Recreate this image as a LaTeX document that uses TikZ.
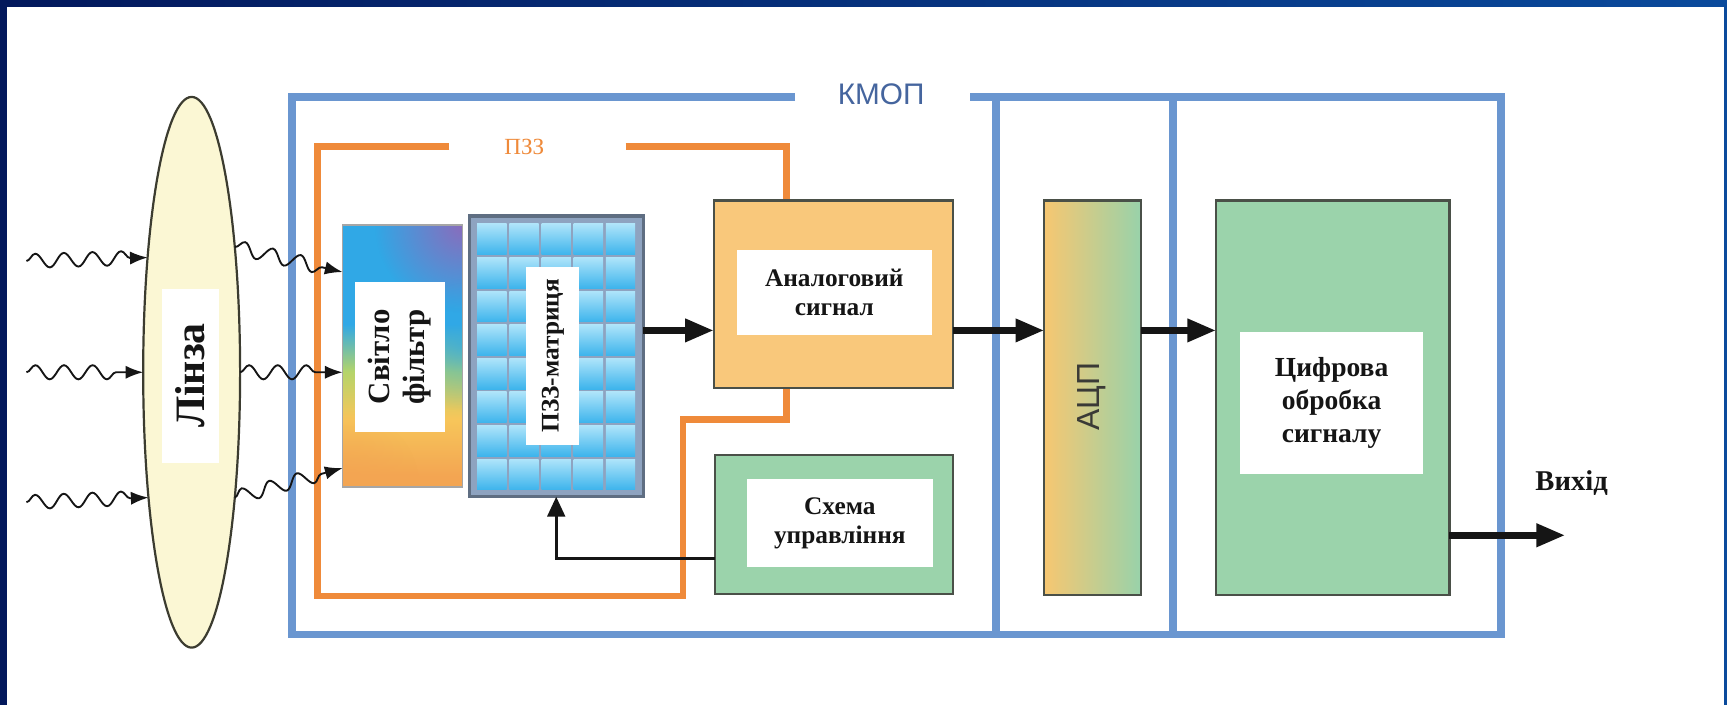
\documentclass[tikz,border=0pt]{standalone}
\usepackage{fontspec}
\setmainfont{Liberation Serif}
\newfontfamily\sansf{Liberation Sans}
\usetikzlibrary{arrows.meta,decorations.pathmorphing,shapes.geometric,fadings,calc}
\definecolor{navyA}{HTML}{03185C}
\definecolor{navyB}{HTML}{0A4A9C}
\definecolor{kblue}{HTML}{6A96D0}
\definecolor{kbluetext}{HTML}{45659E}
\definecolor{orng}{HTML}{EF8A3A}
\definecolor{lensfill}{HTML}{FBF7D4}
\definecolor{lensline}{HTML}{3C3C30}
\definecolor{anafill}{HTML}{F9C87B}
\definecolor{grn}{HTML}{9BD3AB}
\definecolor{boxline}{HTML}{4A5048}
\definecolor{ccdback}{HTML}{8EA3C0}
\definecolor{ccdline}{HTML}{5F6E82}
\definecolor{cellA}{HTML}{AEE4FA}
\definecolor{cellB}{HTML}{3DB4EC}
\definecolor{fBlue}{HTML}{30A8E6}
\definecolor{fPurple}{HTML}{8A6CBC}
\definecolor{fGreen}{HTML}{B4D46A}
\definecolor{fYellow}{HTML}{F7C65A}
\definecolor{fOrange}{HTML}{F3A552}
\definecolor{adcL}{HTML}{F7C771}
\definecolor{adcR}{HTML}{98D2AA}
\definecolor{adctext}{HTML}{3A3A36}
\definecolor{ink}{HTML}{151515}
\pgfdeclareverticalshading{filtershade}{100bp}{color(0bp)=(fOrange); color(27bp)=(fOrange); color(38bp)=(fYellow); color(47bp)=(fGreen); color(56bp)=(fBlue); color(100bp)=(fBlue)}
\tikzfading[name=glowfade, inner color=transparent!0, outer color=transparent!100]
\tikzset{
  box/.style={draw=boxline, line width=1pt, inner sep=0pt, outer sep=0pt},
  lbl/.style={fill=white, inner sep=0pt, outer sep=0pt, align=center, text=ink},
  wave/.style={draw=ink, line width=0.85pt, decorate,
    decoration={snake, amplitude=3.2pt, segment length=13pt, post length=7pt},
    -{Latex[length=8pt,width=6pt]}},
  bigarrow/.style={draw=ink, line width=3pt, -{Triangle[length=13pt,width=10pt]}},
  ctlarrow/.style={draw=ink, line width=1.3pt, -{Triangle[length=9pt,width=8pt]}},
  kframe/.style={draw=kblue, line width=3.5pt},
  oframe/.style={draw=orng, line width=3pt}
}
\begin{document}
\begin{tikzpicture}[x=0.5pt,y=-0.5pt]
\useasboundingbox (0,0) rectangle (1568,640);
% background
\shade[left color=navyA, right color=navyB] (0,0) rectangle (1568,640);
\fill[white] (6,6) rectangle (1565,640);
% KMOP frame
\node[font=\sansf\fontsize{13.5}{15}\selectfont, text=kbluetext] (kmop) at (800,86) {КМОП};
\draw[kframe, line join=miter] (722,88) -- (265,88) -- (265,576) -- (1363,576) -- (1363,88) -- (881,88);
\draw[kframe] (904,88) -- (904,576);
\draw[kframe] (1065,88) -- (1065,576);
% PZZ frame
\node[font=\fontsize{10.5}{12}\selectfont, text=orng] (pzz) at (476,133) {ПЗЗ};
\draw[oframe, line join=miter] (408,133) -- (288,133) -- (288,541) -- (620,541) -- (620,381) -- (714,381) -- (714,352);
\draw[oframe, line join=miter] (568,133) -- (714,133) -- (714,182);
% lens
\node[ellipse, draw=lensline, fill=lensfill, line width=1pt, minimum width=44pt, minimum height=250pt, inner sep=0pt, outer sep=0pt] (lens) at (174,338) {};
\node[lbl, rotate=90, minimum width=79pt, minimum height=26pt, font=\fontsize{19}{20}\selectfont\bfseries] (lenslbl) at (173,341) {Лінза};
% filter
\node[box, draw=gray!70, line width=0.8pt, shade, shading=filtershade, minimum width=54.5pt, minimum height=119pt] (filter) at (365.5,323) {};
\begin{scope}
  \clip (filter.south west) rectangle (filter.north east);
  \fill[fPurple, path fading=glowfade] (filter.north east) circle [radius=80];
  \fill[fBlue, path fading=glowfade, opacity=0.6] ($(filter.east)+(0,-10)$) circle [radius=60];
  \fill[fOrange, path fading=glowfade, opacity=0.7] (filter.south west) circle [radius=70];
\end{scope}
\draw[gray!70, line width=0.8pt] (filter.south west) rectangle (filter.north east);
\node[lbl, rotate=90, minimum width=68pt, minimum height=41pt, font=\fontsize{14}{16}\selectfont\bfseries] (filterlbl) at (363,324) {Світло\\фільтр};
% CCD matrix
\node[draw=ccdline, line width=1.5pt, fill=ccdback, minimum width=79pt, minimum height=127.5pt, inner sep=0pt, outer sep=0pt] (ccd) at (505,323.5) {};
\foreach \i in {0,...,4} {
  \foreach \j in {0,...,7} {
    \shade[top color=cellA, bottom color=cellB] ({432+\i*29.2+1.3},{202+\j*30.5+1.3}) rectangle ({432+(\i+1)*29.2-1.3},{202+(\j+1)*30.5-1.3});
  }
}
\node[lbl, rotate=90, minimum width=81pt, minimum height=24pt, font=\fontsize{11.5}{13}\selectfont\bfseries] (ccdlbl) at (502,323) {ПЗЗ-матриця};
% analog
\node[box, fill=anafill, minimum width=108.5pt, minimum height=85pt] (analog) at (756.5,267) {};
\node[lbl, minimum width=88.5pt, minimum height=38.5pt, font=\fontsize{11.5}{13.5}\selectfont\bfseries] (analoglbl) at (757.5,265.5) {Аналоговий\\сигнал};
% control
\node[box, fill=grn, minimum width=108pt, minimum height=63pt] (control) at (757,476) {};
\node[lbl, minimum width=84.5pt, minimum height=40pt, font=\fontsize{11.5}{13}\selectfont\bfseries] (controllbl) at (762.5,475) {Схема\\управління};
% ADC
\node[box, left color=adcL, right color=adcR, minimum width=44pt, minimum height=179pt] (adc) at (992,361) {};
\node[rotate=90, font=\sansf\fontsize{14.5}{16}\selectfont, text=adctext] (adclbl) at (991,360) {АЦП};
% DSP
\node[box, fill=grn, minimum width=106pt, minimum height=179pt] (dsp) at (1210,361) {};
\node[lbl, minimum width=83pt, minimum height=64.5pt, font=\fontsize{12.5}{15}\selectfont\bfseries] (dsplbl) at (1209,365.5) {Цифрова\\обробка\\сигналу};
% output label
\node[anchor=base west, font=\fontsize{13}{15}\selectfont\bfseries, text=ink] (outlbl) at (1387,445) {Вихід};
% waves in
\coordinate (i1) at (24,237);
\coordinate (i2) at (24,338);
\coordinate (i3) at (24,456);
\draw[wave] (i1) -- (lens.111.7);
\draw[wave] (i2) -- (lens.west);
\draw[wave] (i3) -- (lens.251.8);
% waves out
\draw[wave] (lens.71.4) -- ($(filter.north west)+(0,43)$);
\draw[wave] (lens.east) -- ($(filter.north west)+(0,134)$);
\draw[wave] (lens.289.3) -- ($(filter.north west)+(0,221)$);
% signal arrows
\coordinate (sigy) at (0,300);
\draw[bigarrow] (ccd.east |- sigy) -- (analog.west |- sigy);
\draw[bigarrow] (analog.east |- sigy) -- (adc.west |- sigy);
\draw[bigarrow] (adc.east |- sigy) -- (dsp.west |- sigy);
\coordinate (outp) at (1421,486);
\draw[bigarrow] (dsp.east |- outp) -- (outp);
% control arrow
\coordinate (ctly) at (0,507);
\draw[ctlarrow] (control.west |- ctly) -| (ccd.south);
\end{tikzpicture}
\end{document}
